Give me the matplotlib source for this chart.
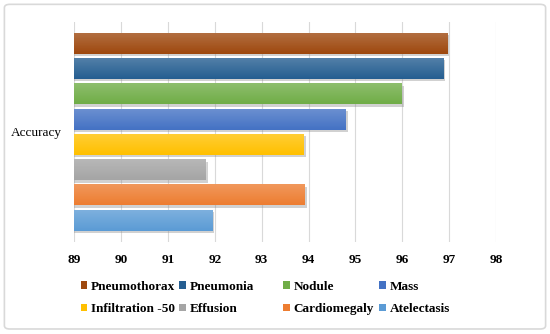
import numpy as np
import matplotlib.pyplot as plt
import matplotlib.patheffects as pe
from matplotlib.patches import FancyBboxPatch, Patch

# series, bottom to top as drawn
diseases = ['Atelectasis', 'Cardiomegaly', 'Effusion', 'Infiltration -50',
            'Mass', 'Nodule', 'Pneumonia', 'Pneumothorax']
accuracy = [91.95, 93.92, 91.82, 93.9, 94.8, 96.0, 96.88, 96.97]
colors = ['#5B9BD5', '#ED7D31', '#A5A5A5', '#FFC000',
          '#4472C4', '#70AD47', '#255E91', '#9E480E']
category = 'Accuracy'
xticks = list(range(89, 99))

plt.rcParams['font.family'] = ['Liberation Serif', 'DejaVu Serif']

fig = plt.figure(figsize=(5.5, 3.34), dpi=100)
fig.patches.append(FancyBboxPatch((0.008, 0.015), 0.984, 0.972,
                                  boxstyle='round,pad=0,rounding_size=0.01',
                                  transform=fig.transFigure, facecolor='none',
                                  edgecolor='#D9D9D9', linewidth=1.2, zorder=-1))
ax = fig.add_axes([0.135, 0.2763, 0.767, 0.6587])
ax.set_facecolor('none')

slot = 0.115
bar_h = 0.0955
ypos = (np.arange(len(diseases)) - (len(diseases) - 1) / 2) * slot
shadow = [pe.SimplePatchShadow(offset=(1.2, -1.8), shadow_rgbFace='#8C8C8C', alpha=0.4), pe.Normal()]

bars = ax.barh(ypos, accuracy, height=bar_h, color=colors, zorder=3)
for b, d in zip(bars, diseases):
    b.set_path_effects(shadow)
    # light sheen on top of each bar
    grad = np.zeros((50, 2, 4))
    grad[..., :3] = 1.0
    grad[..., 3] = np.linspace(0.22, 0.0, 50)[:, None]
    im = ax.imshow(grad, extent=(xticks[0], b.get_width(), b.get_y(), b.get_y() + b.get_height()),
                   origin='upper', aspect='auto', zorder=4, interpolation='bilinear')
    im.set_clip_path(b)

ax.set_xlim(xticks[0], xticks[-1])
ax.set_ylim(-0.5, 0.5)
ax.set_xticks(xticks)
ax.set_xticklabels([str(t) for t in xticks], fontweight='bold', fontsize=9.5)
ax.set_yticks([0])
ax.set_yticklabels([category], fontsize=9.5)
ax.tick_params(axis='x', length=0, pad=9)
ax.tick_params(axis='y', length=0, pad=9)
ax.grid(axis='x', color='#D9D9D9', linewidth=0.8, zorder=0)
for s in ax.spines.values():
    s.set_visible(False)

# legend: reversed order, 2 rows x 4 columns, equal column widths
order = list(range(len(diseases)))[::-1]
col_x = [80.5, 179, 283, 379]
for c in range(4):
    idx = [order[c], order[c + 4]]
    handles = [Patch(facecolor=colors[i], edgecolor='none') for i in idx]
    labels = [diseases[i] for i in idx]
    fig.legend(handles, labels, loc='center left',
               bbox_to_anchor=(col_x[c] / 550, 1 - 298 / 334),
               frameon=False, borderpad=0, borderaxespad=0,
               handlelength=0.5, handleheight=0.5, handletextpad=0.3,
               labelspacing=0.8, prop={'weight': 'bold', 'size': 9.5})

fig.savefig('out.png', dpi=100)
